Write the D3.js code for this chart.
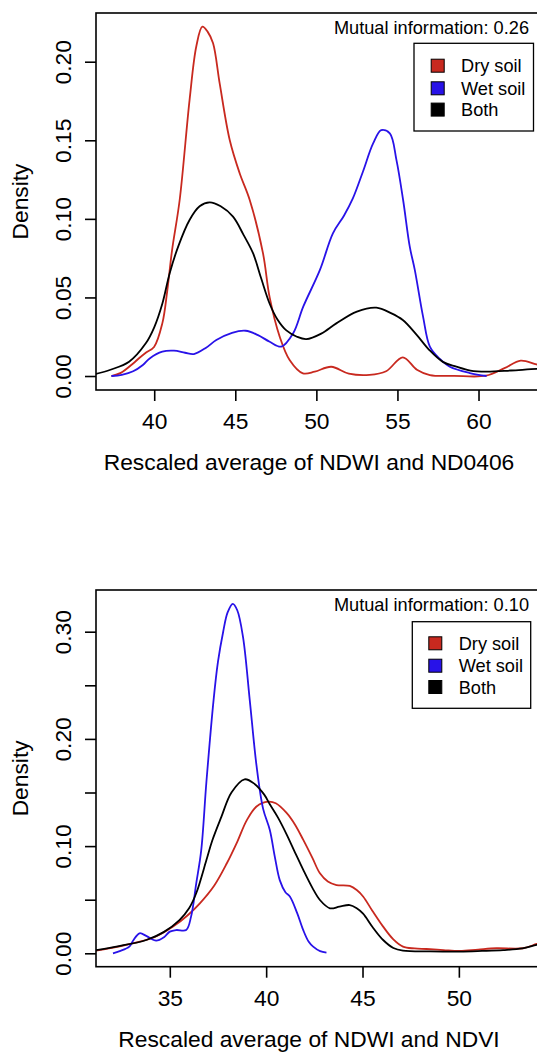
<!DOCTYPE html>
<html>
<head>
<meta charset="utf-8">
<script src="https://cdn.jsdelivr.net/npm/d3@7"></script>
<style>
    body { margin: 0; background: #fff; }
    svg { display: block; font-family: "Liberation Sans", Arial, Helvetica, sans-serif; }
</style>
</head>
<body>
<svg id="chart" width="537" height="1053"></svg>
<script>

let seriesNames = ["Dry soil", "Wet soil", "Both"];
let seriesColors = ["#c8291f", "#2812e8", "#000000"];

// top panel: NDWI + ND0406
let topDry = [[37.36, 0], [37.94, 0.002], [38.7, 0.008], [39.06, 0.0113], [39.5, 0.015], [39.99, 0.0185],
    [40.5, 0.0335], [40.81, 0.0547], [41.1, 0.08], [41.57, 0.112], [42.18, 0.1756], [42.6, 0.21],
    [42.97, 0.2223], [43.3, 0.219], [43.63, 0.2117], [44.04, 0.186], [44.66, 0.15], [45.27, 0.129],
    [45.89, 0.112], [46.71, 0.078], [47.12, 0.05], [47.74, 0.025], [48.35, 0.0102], [49.17, 0.0017],
    [49.9, 0.0028], [50.92, 0.0059], [52.0, 0.0015], [53.28, 0.0007], [54.3, 0.003], [55.33, 0.0119],
    [56.2, 0.004], [57.0, 0.0006], [58.5, 0.0001], [60.46, 0.0002], [61.6, 0.005], [62.6, 0.0098],
    [63.57, 0.0074], [64.2, 0.006]];
let topWet = [[37.36, 0], [38.0, 0.0008], [38.7, 0.003], [39.3, 0.007], [39.72, 0.0112], [40.5, 0.0155],
    [41.22, 0.0161], [41.9, 0.0148], [42.45, 0.014], [43.2, 0.018], [43.83, 0.0229], [44.8, 0.0275],
    [45.64, 0.0288], [46.4, 0.026], [47.12, 0.0218], [47.84, 0.0187], [48.57, 0.0272], [49.19, 0.0441],
    [50.22, 0.0675], [51.02, 0.0908], [51.7, 0.102], [52.25, 0.113], [52.87, 0.13], [53.5, 0.148],
    [54.0, 0.1565], [54.53, 0.1544], [54.94, 0.1374], [55.35, 0.112], [55.76, 0.0823], [56.07, 0.0675],
    [56.58, 0.0378], [57.0, 0.0187], [57.6, 0.011], [58.23, 0.0059], [59.46, 0.0019], [60.5, 0]];
let topBoth = [[36.4, 0.0013], [37.3, 0.004], [38.45, 0.0091], [39.48, 0.0208], [40.0, 0.031], [40.5, 0.046],
    [40.95, 0.0653], [41.5, 0.083], [42.18, 0.0993], [42.8, 0.108], [43.42, 0.1105], [44.1, 0.108],
    [44.86, 0.1014], [45.5, 0.09], [46.1, 0.078], [46.6, 0.062], [47.12, 0.046], [47.6, 0.036],
    [48.15, 0.029], [48.8, 0.025], [49.38, 0.0235], [50.3, 0.027], [51.23, 0.0335], [52.5, 0.041],
    [53.7, 0.0435], [54.6, 0.04], [55.33, 0.0356], [56.2, 0.026], [56.97, 0.0165], [57.8, 0.009],
    [58.63, 0.006], [59.5, 0.0035], [60.47, 0.0028], [62.0, 0.0035], [63.57, 0.0045], [64.2, 0.0045]];
let topXTicks = [40, 45, 50, 55, 60];
let topYTicks = [0, 0.05, 0.10, 0.15, 0.20];
let topYLabels = [0, 0.05, 0.10, 0.15, 0.20];

// bottom panel: NDWI + NDVI
let bottomDry = [[31.16, 0.0025], [32.0, 0.005], [33.06, 0.0093], [34.2, 0.015], [35.17, 0.0249], [35.9, 0.035],
    [36.56, 0.0466], [37.3, 0.063], [37.96, 0.084], [38.5, 0.104], [38.99, 0.124], [39.5, 0.137],
    [40.1, 0.1415], [40.5, 0.14], [41.06, 0.131], [41.5, 0.12], [41.92, 0.106], [42.4, 0.089],
    [42.79, 0.0746], [43.2, 0.067], [43.65, 0.0637], [44.34, 0.0628], [44.7, 0.059], [45.03, 0.053],
    [45.5, 0.04], [46.07, 0.0249], [46.6, 0.013], [47.1, 0.0062], [47.7, 0.0045], [48.32, 0.004],
    [49.2, 0.003], [50.05, 0.0022], [51.0, 0.0035], [51.95, 0.0047], [53.33, 0.0047], [54.04, 0.0087],
    [54.5, 0.011]];
let bottomWet = [[32.05, 0], [32.4, 0.002], [32.9, 0.0062], [33.1, 0.012], [33.43, 0.0187], [33.8, 0.016],
    [34.29, 0.0118], [34.7, 0.015], [35.0, 0.0202], [35.33, 0.0217], [35.85, 0.0217], [36.1, 0.034],
    [36.37, 0.065], [36.63, 0.096], [36.9, 0.16], [37.27, 0.236], [37.5, 0.272], [37.77, 0.3],
    [38.0, 0.318], [38.27, 0.326], [38.5, 0.32], [38.8, 0.295], [39.15, 0.236], [39.5, 0.175],
    [39.84, 0.135], [40.19, 0.115], [40.45, 0.09], [40.71, 0.068], [41.0, 0.057], [41.23, 0.053],
    [41.6, 0.038], [41.92, 0.0218], [42.2, 0.011], [42.44, 0.0062], [42.8, 0.002], [43.13, 0.0006]];
let bottomBoth = [[31.16, 0.003], [32.3, 0.0065], [33.78, 0.0124], [34.7, 0.02], [35.5, 0.031], [36.0, 0.042],
    [36.37, 0.056], [36.9, 0.087], [37.2, 0.105], [37.67, 0.127], [38.2, 0.15], [38.88, 0.1623],
    [39.4, 0.158], [39.9, 0.148], [40.19, 0.139], [40.6, 0.127], [41.06, 0.111], [41.5, 0.094],
    [41.92, 0.078], [42.4, 0.061], [42.79, 0.0497], [43.31, 0.042], [43.8, 0.0435], [44.34, 0.045],
    [44.7, 0.042], [45.03, 0.037], [45.5, 0.025], [46.07, 0.0124], [46.6, 0.005], [47.1, 0.0025],
    [48.5, 0.0018], [50.05, 0.0016], [51.2, 0.0022], [52.3, 0.003], [53.3, 0.0045], [54.04, 0.0078],
    [54.5, 0.009]];
let bottomXTicks = [35, 40, 45, 50];
let bottomYTicks = [0, 0.05, 0.10, 0.15, 0.20, 0.25, 0.30];
let bottomYLabels = [0, 0.10, 0.20, 0.30];

let panels = [
    {
        series: [topDry, topWet, topBoth], xTicks: topXTicks, yTicks: topYTicks, yLabels: topYLabels,
        xDomain: [36.41, 64.1], yDomain: [-0.0089, 0.231],
        top: 13, bottom: 390, mi: "Mutual information: 0.26",
        xTitle: "Rescaled average of NDWI and ND0406",
        legend: {x: 414, y: 43.3, w: 119.5, h: 87.7, sx: 437.7, tx: 461, rows: [65.7, 88.3, 109.6]}
    },
    {
        series: [bottomDry, bottomWet, bottomBoth], xTicks: bottomXTicks, yTicks: bottomYTicks, yLabels: bottomYLabels,
        xDomain: [31.17, 54.47], yDomain: [-0.0125, 0.3389],
        top: 590, bottom: 966.7, mi: "Mutual information: 0.10",
        xTitle: "Rescaled average of NDWI and NDVI",
        legend: {x: 412.3, y: 621.7, w: 118.4, h: 86.6, sx: 435.3, tx: 458.7, rows: [643.3, 665.7, 687]}
    }
];

let svg = d3.select("#chart");
let left = 96, right = 545, fontBig = 22.8, fontSmall = 18.2;

panels.forEach(function (p, i) {
    let x = d3.scaleLinear().domain(p.xDomain).range([left, right]);
    let y = d3.scaleLinear().domain(p.yDomain).range([p.bottom, p.top]);
    let g = svg.append("g");

    g.append("clipPath").attr("id", "clip" + i)
        .append("rect")
        .attr("x", left).attr("y", p.top)
        .attr("width", right - left).attr("height", p.bottom - p.top);

    let line = d3.line()
        .x(d => x(d[0]))
        .y(d => y(d[1]))
        .curve(d3.curveCatmullRom.alpha(0.5));

    g.append("g").attr("clip-path", "url(#clip" + i + ")")
        .selectAll("path")
        .data(p.series)
        .enter()
        .append("path")
        .attr("d", line)
        .attr("fill", "none")
        .attr("stroke", (d, k) => seriesColors[k])
        .attr("stroke-width", 1.8);

    // x axis
    let xAxis = g.append("g")
        .attr("transform", "translate(0," + p.bottom + ")")
        .call(d3.axisBottom(x).tickValues(p.xTicks).tickSize(11).tickPadding(12).tickFormat(d3.format("d")));
    xAxis.select(".domain").remove();
    xAxis.selectAll("line").attr("stroke", "#000").attr("stroke-width", 1.6);
    xAxis.selectAll("text").attr("font-size", fontBig).attr("fill", "#000").attr("font-family", null);

    // y axis, labels rotated like R
    let fmt = d3.format(".2f");
    let yAxis = g.append("g")
        .attr("transform", "translate(" + left + ",0)")
        .call(d3.axisLeft(y).tickValues(p.yTicks).tickSize(11)
            .tickFormat(d => p.yLabels.some(v => Math.abs(v - d) < 1e-9) ? fmt(d) : ""));
    yAxis.select(".domain").remove();
    yAxis.selectAll("line").attr("stroke", "#000").attr("stroke-width", 1.6);
    yAxis.selectAll("text")
        .attr("x", null).attr("dy", "0.35em")
        .attr("transform", "translate(-33,0) rotate(-90)")
        .attr("text-anchor", "middle")
        .attr("font-size", fontBig).attr("fill", "#000").attr("font-family", null);

    // box
    g.append("rect")
        .attr("x", left).attr("y", p.top)
        .attr("width", right - left).attr("height", p.bottom - p.top)
        .attr("fill", "none").attr("stroke", "#000").attr("stroke-width", 1.6);

    // titles
    g.append("text")
        .attr("x", 309).attr("y", p.bottom + 80)
        .attr("text-anchor", "middle").attr("font-size", fontBig)
        .text(p.xTitle);
    g.append("text")
        .attr("transform", "translate(20," + ((p.top + p.bottom) / 2) + ") rotate(-90)")
        .attr("dy", "0.35em")
        .attr("text-anchor", "middle").attr("font-size", fontBig)
        .text("Density");

    g.append("text")
        .attr("x", 529).attr("y", p.top + 21)
        .attr("text-anchor", "end").attr("font-size", fontSmall)
        .text(p.mi);

    // legend
    let L = p.legend;
    g.append("rect")
        .attr("x", L.x).attr("y", L.y).attr("width", L.w).attr("height", L.h)
        .attr("fill", "#fff").attr("stroke", "#000").attr("stroke-width", 1.3);
    let rows = g.selectAll(".leg" + i)
        .data(seriesNames)
        .enter()
        .append("g");
    rows.append("rect")
        .attr("x", L.sx - 6.5).attr("y", (d, k) => L.rows[k] - 6.5)
        .attr("width", 13).attr("height", 13)
        .attr("fill", (d, k) => seriesColors[k])
        .attr("stroke", "#000").attr("stroke-width", 1);
    rows.append("text")
        .attr("x", L.tx).attr("y", (d, k) => L.rows[k])
        .attr("dy", "0.36em")
        .attr("font-size", fontSmall)
        .text(d => d);
});

</script>
</body>
</html>
